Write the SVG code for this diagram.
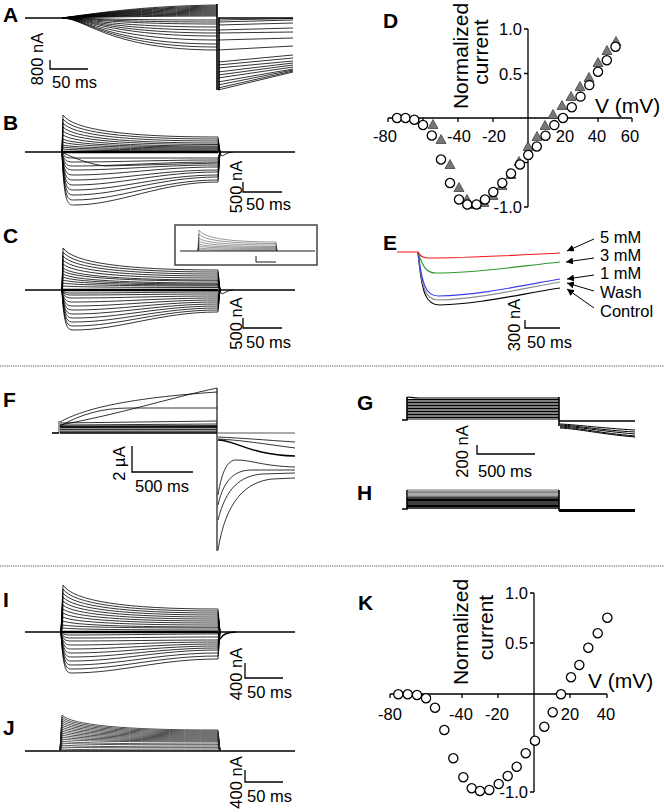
<svg xmlns="http://www.w3.org/2000/svg" width="664" height="812" viewBox="0 0 664 812">
<defs>
<style>
.t{fill:none;stroke:#000;stroke-width:0.8}
.tk{fill:none;stroke:#000;stroke-width:1.6}
.ax{fill:none;stroke:#000;stroke-width:1.3}
.sb{fill:none;stroke:#000;stroke-width:1.3}
.lbl{font-family:"Liberation Sans",Arial,sans-serif;font-size:16.5px;fill:#000}
.ttl{font-family:"Liberation Sans",Arial,sans-serif;font-size:21px;fill:#000}
.pl{font-family:"Liberation Sans",Arial,sans-serif;font-size:21px;font-weight:bold;fill:#000}
.sep{stroke:#555;stroke-width:1;stroke-dasharray:1.2 1}
.arr{stroke:#000;stroke-width:1;fill:none}
</style>
<marker id="ah" viewBox="0 0 10 10" refX="10" refY="5" markerWidth="7" markerHeight="7" orient="auto"><path d="M0,0 L10,5 L0,10 z" fill="#000"/></marker>
<circle id="o" r="4.6" fill="#fff" stroke="#000" stroke-width="1.3"/>
<path id="tr" d="M0,-5.5 L5,3.5 L-5,3.5 z" fill="#777" stroke="#333" stroke-width="0.7"/>
</defs>
<rect width="664" height="812" fill="#fff"/>

<g id="separators">
<line class="sep" x1="0" y1="366" x2="664" y2="366"/>
<line class="sep" x1="0" y1="566" x2="664" y2="566"/>
</g>

<g id="panel-A">
<text class="pl" x="3" y="22">A</text>
<path class="tk" d="M25,18 L62,18"/>
<path class="t" d="M62,18 C90,14 140,6 217,5 M62,18 C90,14.4 140,7.2 217,6 M62,18 C90,14.7 140,8.1 217,7 M62,18 C90,15 140,9 217,8 M62,18 C90,15.3 140,9.9 217,9 M62,18 C90,15.6 140,10.8 217,10 M62,18 C90,15.9 140,11.7 217,11 M62,18 C90,16.2 140,12.6 217,12 M62,18 C90,16.5 140,13.5 217,13 M62,18 C90,16.8 140,14.4 217,14 M62,18 C90,17.1 140,15.3 217,15 M62,18 C90,17.4 140,16.2 217,16"/>
<path class="t" d="M62,18 C85,18 110,20 217,20 M62,18 C85,18 110,22 217,22 M62,18 C85,18 110,24 217,24 M62,18 C85,18 110,27 217,27 M62,18 C85,18 110,30 217,30 M62,18 C85,18 110,33 217,33 M62,18 C85,18 110,36 217,36 M62,18 C85,18 110,40 217,40 M62,18 C85,18 110,44 217,44 M62,18 C85,18 110,47 217,47 M62,18 C85,18 110,50 217,50"/>
<path class="tk" d="M217,4 L217,90 M219,18 L219,90"/>
<path class="t" d="M218,20 L293,18.5 M218,22 L293,20 M218,25 L293,23 M218,30 L293,28 M218,33 L293,32 M218,40 L293,38 M218,50 L293,46 M218,62 L293,55 M218,65 L293,58 M218,68 L293,61 M218,72 L293,63 M218,75 L293,65 M218,78 L293,67 M218,82 L293,69 M218,85 L293,70 M218,88 L293,71 M218,90 L293,72"/>
<path class="tk" d="M218,18 L293,18"/>
<path class="sb" d="M50,60 L50,69 L88,69"/>
<text class="lbl" text-anchor="middle" transform="translate(43,59) rotate(-90)">800 nA</text>
<text class="lbl" x="52" y="88">50 ms</text>
</g>

<g id="panel-B">
<text class="pl" x="3" y="130">B</text>
<path class="tk" d="M25,152 L295,152"/>
<path stroke="#000" stroke-width="2.5" d="M62,152 L218,152"/>
<path class="t" d="M62,152 L63,115 Q78,137 218,137 L220,152 M62,152 L63,119 Q78,139 218,139 L220,152 M62,152 L63,123 Q78,141 218,141 L220,152 M62,152 L63,127 Q78,143 218,143 L220,152 M62,152 L63,131 Q78,144.5 218,144.5 L220,152 M62,152 L63,135 Q78,146 218,146 L220,152 M62,152 L63,139 Q78,147 218,147 L220,152 M62,152 L63,142 Q78,148 218,148 L220,152 M62,152 L63,145 Q78,149 218,149 L220,152 M62,152 L63,147 Q78,150 218,150 L220,152 M62,152 L63,149 Q78,151 218,151 L220,152"/>
<path class="t" d="M62,152 C64,205 68,205 74,205 C120,205 160,182 218,182 L220,152 M62,152 C64,200 68,200 74,200 C120,200 160,180 218,180 L220,152 M62,152 C64,195 68,195 74,195 C120,195 160,177 218,177 L220,152 M62,152 C64,190 68,190 74,190 C120,190 160,175 218,175 L220,152 M62,152 C64,185 68,185 74,185 C120,185 160,172 218,172 L220,152 M62,152 C64,180 68,180 74,180 C120,180 160,170 218,170 L220,152 M62,152 C64,175 68,175 74,175 C120,175 160,167 218,167 L220,152 M62,152 C64,170 68,170 74,170 C120,170 160,165 218,165 L220,152 M62,152 C64,166 68,166 74,166 C120,166 160,162 218,162 L220,152 M62,152 C64,162 68,162 74,162 C120,162 160,160 218,160 L220,152 M62,152 C64,158 68,158 74,158 C120,158 160,158 218,158 L220,152 M63,153 C75,158 88,164 105,166 L218,163"/>
<path class="t" d="M219,152 L222,156 L228,153 L233,152"/>
<path class="sb" d="M243,182 L243,192 L282,192"/>
<text class="lbl" text-anchor="middle" transform="translate(242,187) rotate(-90)">500 nA</text>
<text class="lbl" x="246" y="210">50 ms</text>
</g>

<g id="panel-C">
<text class="pl" x="3" y="243">C</text>
<path class="tk" d="M25,290 L295,290"/>
<path stroke="#000" stroke-width="2.5" d="M62,290 L218,290"/>
<path class="t" d="M62,290 L63,248 Q78,270 218,270 L220,290 M62,290 L63,252 Q78,272 218,272 L220,290 M62,290 L63,256 Q78,274 218,274 L220,290 M62,290 L63,260 Q78,276 218,276 L220,290 M62,290 L63,264 Q78,278 218,278 L220,290 M62,290 L63,268 Q78,280 218,280 L220,290 M62,290 L63,271 Q78,281 218,281 L220,290 M62,290 L63,274 Q78,283 218,283 L220,290 M62,290 L63,277 Q78,284 218,284 L220,290 M62,290 L63,280 Q78,285 218,285 L220,290 M62,290 L63,283 Q78,286 218,286 L220,290 M62,290 L63,286 Q78,287.5 218,287.5 L220,290"/>
<path class="t" d="M62,290 C64,330 68,330 74,330 C120,330 160,312 218,312 L220,290 M62,290 C64,326 68,326 74,326 C120,326 160,310 218,310 L220,290 M62,290 C64,322 68,322 74,322 C120,322 160,308 218,308 L220,290 M62,290 C64,318 68,318 74,318 C120,318 160,306 218,306 L220,290 M62,290 C64,314 68,314 74,314 C120,314 160,304 218,304 L220,290 M62,290 C64,310 68,310 74,310 C120,310 160,302 218,302 L220,290 M62,290 C64,306 68,306 74,306 C120,306 160,300 218,300 L220,290 M62,290 C64,302 68,302 74,302 C120,302 160,298 218,298 L220,290 M62,290 C64,298 68,298 74,298 C120,298 160,296 218,296 L220,290 M62,290 C64,295 68,295 74,295 C120,295 160,294 218,294 L220,290 M62,290 C64,293 68,293 74,293 C120,293 160,292 218,292 L220,290"/>
<path class="t" d="M219,290 L222,294 L228,291 L233,290"/>
<g id="inset-C">
<rect x="175" y="225" width="142" height="40" fill="#fff" stroke="#444" stroke-width="1.5"/>
<path fill="none" stroke="#000" stroke-width="0.9" d="M180,251 L315,251"/>
<path fill="none" stroke="#333" stroke-width="0.5" d="M198,251 L199,230 Q205,242 276,242 L277,251 M198,251 L199,234 Q205,243.5 276,243.5 L277,251 M198,251 L199,238 Q205,245 276,245 L277,251 M198,251 L199,241 Q205,246.5 276,246.5 L277,251 M198,251 L199,244 Q205,247.5 276,247.5 L277,251 M198,251 L199,246 Q205,248.5 276,248.5 L277,251 M198,251 L199,248 Q205,249.5 276,249.5 L277,251 M198,251 L199,249.5 Q205,250.5 276,250.5 L277,251"/>
<path fill="none" stroke="#000" stroke-width="0.9" d="M256,256 L256,262 L276,262"/>
</g>
<path class="sb" d="M243,318 L243,328 L282,328"/>
<text class="lbl" text-anchor="middle" transform="translate(242,323.5) rotate(-90)">500 nA</text>
<text class="lbl" x="246" y="348">50 ms</text>
</g>

<g id="panel-D">
<text class="pl" x="383" y="28">D</text>
<path class="ax" d="M388,118 L632,118 M388,118 v4 M423,118 v4 M458,118 v4 M493,118 v4 M563,118 v4 M598,118 v4 M632,118 v4 M528,29 L528,207 M524,29 h4 M524,73.5 h4 M524,162.5 h4 M524,207 h4"/>
<text class="lbl" text-anchor="end" x="522" y="35">1.0</text>
<text class="lbl" text-anchor="end" x="522" y="80">0.5</text>
<text class="lbl" text-anchor="end" x="522" y="213">-1.0</text>
<text class="lbl" text-anchor="middle" x="385" y="142">-80</text>
<text class="lbl" text-anchor="middle" x="459" y="142">-40</text>
<text class="lbl" text-anchor="middle" x="494" y="142">-20</text>
<text class="lbl" text-anchor="middle" x="565" y="142">20</text>
<text class="lbl" text-anchor="middle" x="597" y="142">40</text>
<text class="lbl" text-anchor="middle" x="630" y="142">60</text>
<text class="ttl" text-anchor="middle" transform="translate(468,56) rotate(-90)">Normalized</text>
<text class="ttl" text-anchor="middle" transform="translate(488,52) rotate(-90)">current</text>
<text class="ttl" x="595" y="113">V (mV)</text>
<g id="D-triangles">
<use href="#tr" x="433" y="125"/><use href="#tr" x="441" y="140"/><use href="#tr" x="450" y="165"/><use href="#tr" x="459" y="188"/><use href="#tr" x="467" y="200"/><use href="#tr" x="476" y="205"/><use href="#tr" x="484" y="203"/><use href="#tr" x="493" y="196"/><use href="#tr" x="502" y="186"/><use href="#tr" x="511" y="175"/><use href="#tr" x="519" y="162"/><use href="#tr" x="528" y="147"/><use href="#tr" x="537" y="137"/><use href="#tr" x="545" y="126"/><use href="#tr" x="553" y="115"/><use href="#tr" x="562" y="106"/><use href="#tr" x="571" y="97"/><use href="#tr" x="580" y="87"/><use href="#tr" x="589" y="78"/><use href="#tr" x="598" y="63"/><use href="#tr" x="607" y="51"/><use href="#tr" x="616" y="42"/>
</g>
<g id="D-circles">
<use href="#o" x="397" y="118"/><use href="#o" x="405.5" y="118"/><use href="#o" x="414.3" y="119.8"/><use href="#o" x="423" y="125"/><use href="#o" x="431.8" y="135.5"/><use href="#o" x="441" y="159.5"/><use href="#o" x="450" y="183"/><use href="#o" x="459" y="199.5"/><use href="#o" x="467.3" y="204.5"/><use href="#o" x="476.5" y="204.5"/><use href="#o" x="485" y="199.5"/><use href="#o" x="493.3" y="192"/><use href="#o" x="502.3" y="183"/><use href="#o" x="511" y="173.5"/><use href="#o" x="520" y="164.5"/><use href="#o" x="528.3" y="155"/><use href="#o" x="536.8" y="146.5"/><use href="#o" x="545.5" y="135.8"/><use href="#o" x="554.3" y="125.1"/><use href="#o" x="563" y="118"/><use href="#o" x="571.8" y="107.3"/><use href="#o" x="580.5" y="96.6"/><use href="#o" x="589.3" y="85.1"/><use href="#o" x="598" y="71.7"/><use href="#o" x="606.8" y="60.2"/><use href="#o" x="615.5" y="46.8"/>
</g>
</g>

<g id="panel-E">
<text class="pl" x="383" y="250">E</text>
<path fill="none" stroke="#000" stroke-width="1.2" d="M418,252 C422,295 426,305 440,305 C480,304 520,294 560,288"/>
<path fill="none" stroke="#8c8c8c" stroke-width="1.2" d="M418,252 C422,290 426,300 438,300 C480,299 520,289 560,282"/>
<path fill="none" stroke="#3b3bf0" stroke-width="1.2" d="M418,252 C422,285 426,296 438,296 C480,295 520,286 560,279"/>
<path fill="none" stroke="#2a9a2a" stroke-width="1.2" d="M418,252 C423,268 427,273 436,273 C480,273 520,266 560,262"/>
<path fill="none" stroke="#f01818" stroke-width="1.2" d="M397,252 L418,252 C420,256 423,258 428,258 C470,258 520,255 560,253"/>
<path class="sb" d="M525,320 L525,328 L560,328"/>
<text class="lbl" text-anchor="middle" transform="translate(520,325) rotate(-90)">300 nA</text>
<text class="lbl" x="527" y="348">50 ms</text>
<text class="lbl" x="600" y="243">5 mM</text>
<text class="lbl" x="600" y="261">3 mM</text>
<text class="lbl" x="600" y="279">1 mM</text>
<text class="lbl" x="600" y="298">Wash</text>
<text class="lbl" x="600" y="317">Control</text>
</g>

<g id="connectors">
<line class="arr" x1="594" y1="239" x2="567" y2="251" marker-end="url(#ah)"/>
<line class="arr" x1="594" y1="258" x2="566" y2="262" marker-end="url(#ah)"/>
<line class="arr" x1="594" y1="275" x2="567" y2="279" marker-end="url(#ah)"/>
<line class="arr" x1="594" y1="291" x2="567" y2="283" marker-end="url(#ah)"/>
<line class="arr" x1="594" y1="308" x2="567" y2="289" marker-end="url(#ah)"/>
</g>

<g id="panel-F">
<text class="pl" x="3" y="407">F</text>
<path class="tk" d="M52,433 L59,433"/>
<path class="t" d="M59,433 L59,421"/>
<path class="t" d="M60,423 L217,421 M60,425 L217,424 M60,426 L217,425.5 M60,427 L217,426.5 M60,428 L217,428 M60,429.5 L217,429.5 M60,431 L217,431 M60,432 L217,432"/>
<path class="tk" d="M60,427 L217,427 M60,433 L217,433"/>
<path class="t" d="M60,422 C85,408 130,398 217,392 M60,425 C120,414 170,398 217,388 M60,426 C80,415 100,408 130,408 L217,408"/>
<path fill="none" stroke="#000" stroke-width="1.1" d="M217,388 L217,551"/>
<path fill="none" stroke="#444" stroke-width="0.9" d="M218,433 L295,433"/>
<path class="t" d="M218,437 C240,438 265,440 295,442 M218,439 C240,440 265,444 295,448"/>
<path fill="none" stroke="#000" stroke-width="1.4" d="M218,440 C235,440 250,455 295,456"/>
<path class="t" d="M218,495 C222,470 228,460 236,460 C252,460 262,466 295,467 M218,505 C224,478 236,470 252,470 L295,470 M218,520 C226,488 240,476 262,474 L295,473 M218,550 C226,500 246,482 272,479 L295,478"/>
<path class="sb" d="M132,446 L132,472 L193,472"/>
<text class="lbl" text-anchor="middle" transform="translate(125,463.5) rotate(-90)">2 µA</text>
<text class="lbl" x="135" y="492">500 ms</text>
</g>

<g id="panel-G">
<text class="pl" x="357" y="410">G</text>
<path class="tk" d="M402,420 L407,420 L407,397"/>
<path fill="none" stroke="#000" stroke-width="1.1" d="M407,397 C410,397 413,398 420,398 L559,398 M407,399.5 L559,399.5 M407,401 L559,401 M407,402.5 L559,402.5 M407,404 L559,404 M407,405.5 L559,405.5 M407,407 L559,407 M407,408.5 L559,408.5 M407,410 L559,410 M407,411.5 L559,411.5 M407,413 L559,413 M407,414.5 L559,414.5 M407,416 L559,416 M407,417.5 L559,417.5 M407,419 L559,419"/>
<path class="tk" d="M559,397 L559,426"/>
<path class="tk" d="M559,421 L635,421"/>
<path fill="none" stroke="#000" stroke-width="1" d="M560,424 C580,425 600,428 635,430 M560,425 C580,426 600,430 635,432 M560,426 C580,427 600,431 635,434 M560,427 C580,428 600,433 635,436 M560,428 C580,429 600,434 635,437"/>
<path class="sb" d="M477,445 L477,454 L535,454"/>
<text class="lbl" text-anchor="middle" transform="translate(468,451.5) rotate(-90)">200 nA</text>
<text class="lbl" x="478" y="477">500 ms</text>
</g>

<g id="panel-H">
<text class="pl" x="357" y="500">H</text>
<path class="tk" d="M402,509 L407,509 L407,490"/>
<path fill="none" stroke="#555" stroke-width="0.8" d="M407,490 L559,490 M407,491.3 L559,491.3 M407,492.6 L559,492.6 M407,493.9 L559,493.9 M407,495.2 L559,495.2 M407,496.5 L559,496.5"/>
<path fill="none" stroke="#000" stroke-width="1.1" d="M407,497.8 L559,497.8 M407,499.1 L559,499.1 M407,500.4 L559,500.4 M407,501.7 L559,501.7 M407,503 L559,503 M407,504.3 L559,504.3 M407,505.6 L559,505.6 M407,506.9 L559,506.9 M407,508.2 L559,508.2"/>
<path class="tk" d="M559,490 L559,511"/>
<path fill="none" stroke="#000" stroke-width="3" d="M559,510.5 L635,510.5"/>
</g>

<g id="panel-I">
<text class="pl" x="3" y="607">I</text>
<path class="tk" d="M25,632 L295,632"/>
<path stroke="#000" stroke-width="2.5" d="M61,632 L218,632"/>
<path class="t" d="M61,632 L63,585 Q78,609 218,609 L220,632 M61,632 L63,589 Q78,611 218,611 L220,632 M61,632 L63,593 Q78,613 218,613 L220,632 M61,632 L63,597 Q78,615 218,615 L220,632 M61,632 L63,601 Q78,617 218,617 L220,632 M61,632 L63,605 Q78,619 218,619 L220,632 M61,632 L63,609 Q78,621 218,621 L220,632 M61,632 L63,613 Q78,623 218,623 L220,632 M61,632 L63,617 Q78,625 218,625 L220,632 M61,632 L63,621 Q78,627 218,627 L220,632 M61,632 L63,625 Q78,628 218,628 L220,632 M61,632 L63,628 Q78,630 218,630 L220,632"/>
<path class="t" d="M61,632 C63,673 67,673 72,673 C120,673 160,659 218,659 L220,632 M61,632 C63,669 67,669 72,669 C120,669 160,656 218,656 L220,632 M61,632 C63,665 67,665 72,665 C120,665 160,653 218,653 L220,632 M61,632 C63,661 67,661 72,661 C120,661 160,650 218,650 L220,632 M61,632 C63,657 67,657 72,657 C120,657 160,648 218,648 L220,632 M61,632 C63,653 67,653 72,653 C120,653 160,646 218,646 L220,632 M61,632 C63,649 67,649 72,649 C120,649 160,644 218,644 L220,632 M61,632 C63,645 67,645 72,645 C120,645 160,642 218,642 L220,632 M61,632 C63,641 67,641 72,641 C120,641 160,640 218,640 L220,632 M61,632 C63,638 67,638 72,638 C120,638 160,637 218,637 L220,632 M61,632 C63,635 67,635 72,635 C120,635 160,634 218,634 L220,632"/>
<path fill="none" stroke="#000" stroke-width="1.3" d="M218,632 L220,639 C222,635 226,632 236,632"/>
<path class="sb" d="M245,663 L245,678 L283,678"/>
<text class="lbl" text-anchor="middle" transform="translate(242,674) rotate(-90)">400 nA</text>
<text class="lbl" x="247" y="698">50 ms</text>
</g>

<g id="panel-J">
<text class="pl" x="3" y="735">J</text>
<path class="tk" d="M25,751 L295,751"/>
<path fill="none" stroke="#222" stroke-width="0.8" d="M60,751 L62,715 Q76,730 218,730 L220,751 M60,751 L62,717 Q76,731 218,731 L220,751 M60,751 L62,719 Q76,732 218,732 L220,751 M60,751 L62,721 Q76,733 218,733 L220,751 M60,751 L62,723 Q76,734 218,734 L220,751 M60,751 L62,725 Q76,735 218,735 L220,751 M60,751 L62,727 Q76,736 218,736 L220,751 M60,751 L62,729 Q76,737 218,737 L220,751 M60,751 L62,731 Q76,738 218,738 L220,751 M60,751 L62,733 Q76,739 218,739 L220,751 M60,751 L62,735 Q76,740 218,740 L220,751 M60,751 L62,737 Q76,741 218,741 L220,751 M60,751 L62,739 Q76,742 218,742 L220,751 M60,751 L62,741 Q76,744 218,744 L220,751 M60,751 L62,743 Q76,745 218,745 L220,751 M60,751 L62,745 Q76,747 218,747 L220,751 M60,751 L62,747 Q76,748 218,748 L220,751 M60,751 L62,749 Q76,750 218,750 L220,751"/>
<path class="sb" d="M245,770 L245,782 L283,782"/>
<text class="lbl" text-anchor="middle" transform="translate(242,782.5) rotate(-90)">400 nA</text>
<text class="lbl" x="247" y="802">50 ms</text>
</g>

<g id="panel-K">
<text class="pl" x="358" y="610">K</text>
<path class="ax" d="M390,694 L607,694 M390,694 v4 M426,694 v4 M462,694 v4 M498,694 v4 M570,694 v4 M607,694 v4 M534,593 L534,792 M530,593 h4 M530,643 h4 M530,743 h4 M530,792 h4"/>
<text class="lbl" text-anchor="end" x="528" y="599">1.0</text>
<text class="lbl" text-anchor="end" x="528" y="649">0.5</text>
<text class="lbl" text-anchor="end" x="528" y="798">-1.0</text>
<text class="lbl" text-anchor="middle" x="390" y="720">-80</text>
<text class="lbl" text-anchor="middle" x="461" y="720">-40</text>
<text class="lbl" text-anchor="middle" x="497" y="720">-20</text>
<text class="lbl" text-anchor="middle" x="570" y="720">20</text>
<text class="lbl" text-anchor="middle" x="606" y="720">40</text>
<text class="ttl" text-anchor="middle" transform="translate(468,632) rotate(-90)">Normalized</text>
<text class="ttl" text-anchor="middle" transform="translate(493,627.5) rotate(-90)">current</text>
<text class="ttl" x="588" y="688">V (mV)</text>
<g id="K-circles">
<use href="#o" x="398.3" y="694.3"/><use href="#o" x="407.7" y="694.3"/><use href="#o" x="417" y="695"/><use href="#o" x="426" y="698.3"/><use href="#o" x="435" y="707.7"/><use href="#o" x="444.3" y="730"/><use href="#o" x="453.3" y="758.3"/><use href="#o" x="463.3" y="777.3"/><use href="#o" x="471.7" y="788.3"/><use href="#o" x="480" y="791"/><use href="#o" x="489.3" y="790"/><use href="#o" x="498.7" y="784"/><use href="#o" x="507.7" y="776"/><use href="#o" x="516.7" y="766.7"/><use href="#o" x="525.7" y="753.3"/><use href="#o" x="535" y="740.7"/><use href="#o" x="544.3" y="726.7"/><use href="#o" x="552.7" y="712.3"/><use href="#o" x="561" y="694.3"/><use href="#o" x="571" y="677.3"/><use href="#o" x="579.3" y="665"/><use href="#o" x="588.3" y="647.7"/><use href="#o" x="597.7" y="633.3"/><use href="#o" x="607.3" y="617.7"/>
</g>
</g>
</svg>
